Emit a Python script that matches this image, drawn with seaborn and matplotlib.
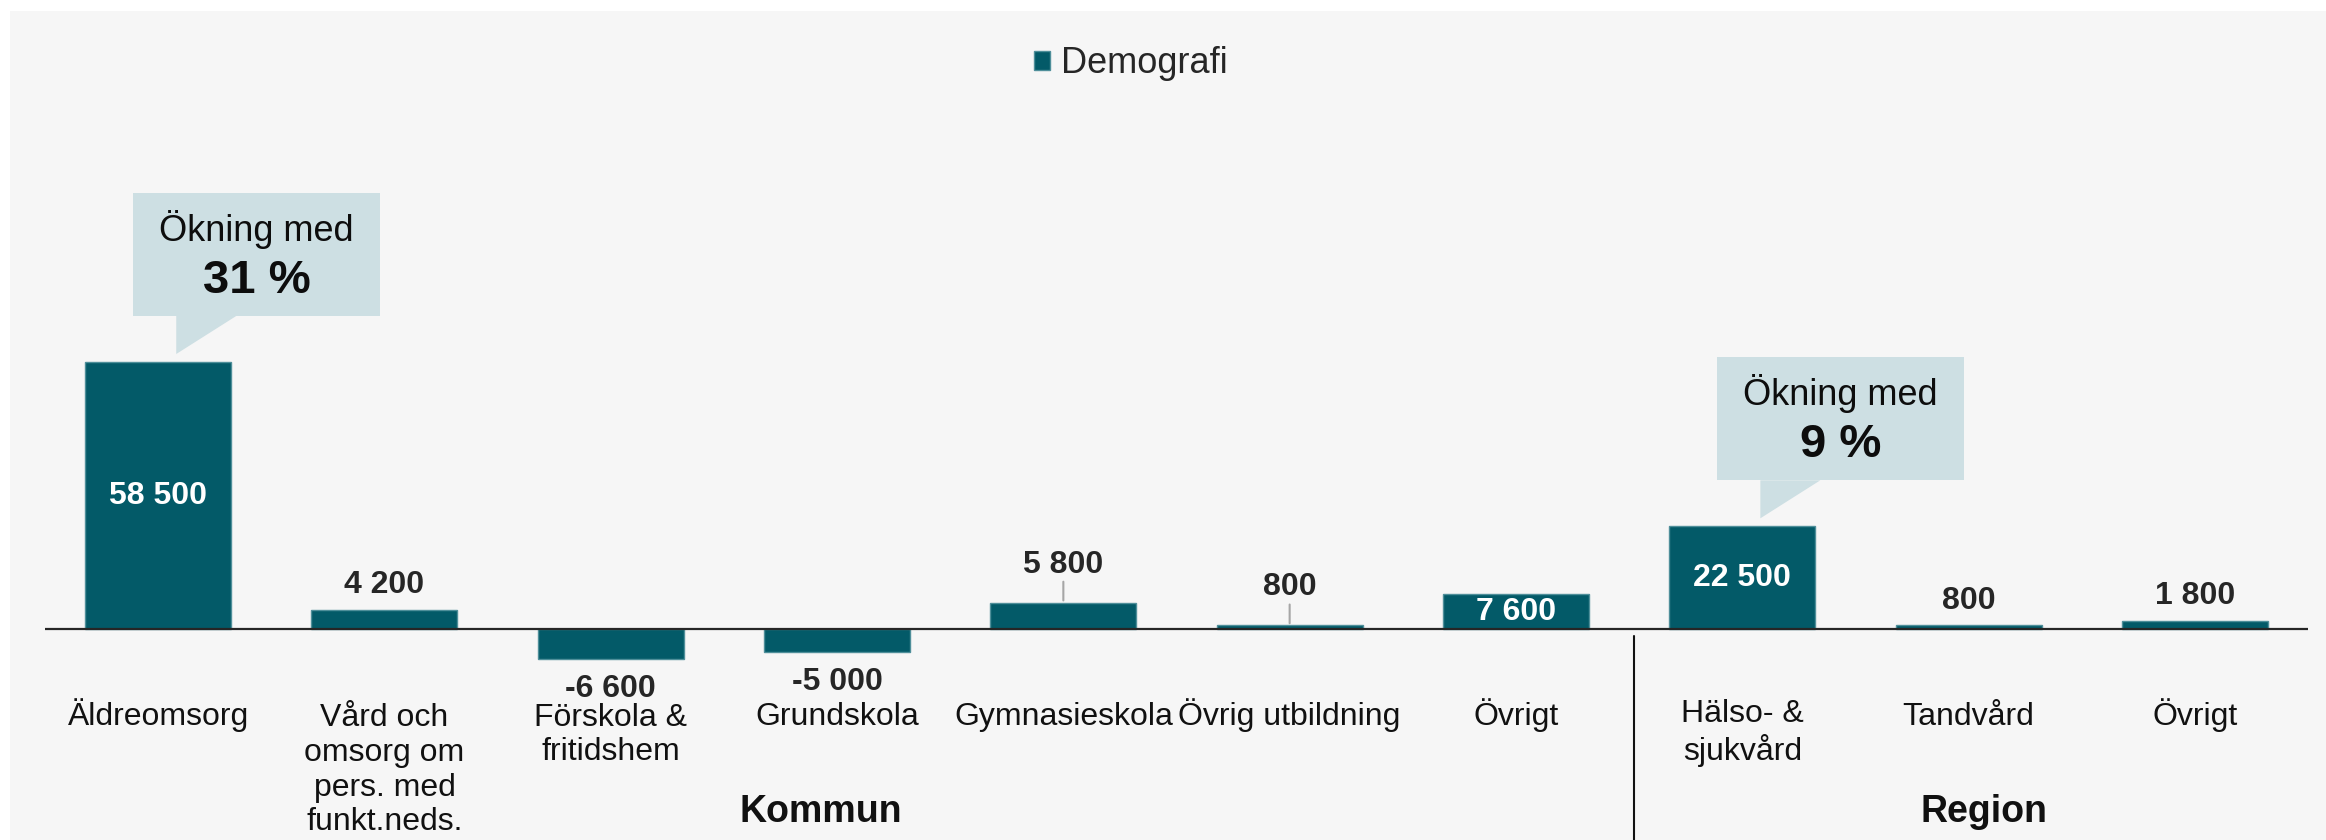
import seaborn as sns
import matplotlib.pyplot as plt
import matplotlib.transforms as mtransforms
from matplotlib.patches import Rectangle, Polygon
import pandas as pd
import numpy as np

# data
categories = [
    "Äldreomsorg", "Vård och\nomsorg om\npers. med\nfunkt.neds.", "Förskola &\nfritidshem",
    "Grundskola", "Gymnasieskola", "Övrig utbildning", "Övrigt",
    "Hälso- &\nsjukvård", "Tandvård", "Övrigt",
]
values = [58500, 4200, -6600, -5000, 5800, 800, 7600, 22500, 800, 1800]
series_name = "Demografi"
groups = ["Kommun", "Region"]
callout_idx = [0, 7]
callout_pct = ["31 %", "9 %"]

# label placement per bar
label_mode = ["inside", "above", "below", "below", "leader", "leader",
              "inside", "inside", "above", "above"]

bar_color = "#035a68"
callout_color = "#cddfe3"
text_dark = "#262626"

sns.set_theme(style="white")
plt.rcParams["font.family"] = ["Liberation Sans", "DejaVu Sans"]

W, H = 2326, 840
fig = plt.figure(figsize=(W / 100, H / 100), dpi=100)
fig.patch.set_facecolor("white")
fig.patches.append(Rectangle((10 / W, 0), 1 - 10 / W, 1 - 11 / H, transform=fig.transFigure,
                             facecolor="#f6f6f6", edgecolor="none", zorder=-10))

ax_bottom, ax_top = 692.9, 172.6  # pixels from top
ax_h = ax_bottom - ax_top
ax = fig.add_axes([45 / W, (H - ax_bottom) / H, (2308 - 45) / W, ax_h / H])
ax.set_facecolor("none")

df = pd.DataFrame({"pos": np.arange(len(values)), "value": values, "serie": series_name})
sns.barplot(data=df, x="pos", y="value", hue="serie", palette=[bar_color], dodge=False,
            saturation=1, width=0.645, edgecolor="#4f8f9a", linewidth=1, ax=ax, zorder=3)

ax.set_xlim(-0.5, len(values) - 0.5)
ax.set_ylim(-14000, 100000)
ax.axhline(0, color="#262626", lw=1.6, zorder=4)
for s in ax.spines.values():
    s.set_visible(False)
ax.set_yticks([])
ax.set_xticks([])
ax.set_xlabel("")
ax.set_ylabel("")

blend = mtransforms.blended_transform_factory(ax.transData, ax.transAxes)

# category labels (baseline of first line at a fixed level)
for i, lab in enumerate(categories):
    n = lab.count("\n")
    y = -(725 - ax_bottom + n * 35.1) / ax_h
    ax.text(i, y, lab, transform=blend, ha="center", va="baseline", multialignment="center",
            fontsize=23, linespacing=1.2, color="#111111")

# value labels
for i, v in enumerate(values):
    txt = f"{v:,}".replace(",", " ")
    mode = label_mode[i]
    if mode == "inside":
        ax.text(i, v / 2, txt, ha="center", va="center", fontsize=23,
                fontweight="bold", color="white", zorder=5)
        continue
    dy = {"above": 12, "below": -27.5, "leader": 21.6}[mode]
    ax.annotate(txt, (i, v), xytext=(0, dy), textcoords="offset points",
                ha="center", va="baseline", fontsize=23, fontweight="bold", color=text_dark)
    if mode == "leader":
        ax.annotate("", (i, v), xytext=(0, 15), textcoords="offset points",
                    arrowprops=dict(arrowstyle="-", color="#a6a6a6", lw=1.5,
                                    shrinkA=0, shrinkB=1.5), zorder=5)

# callouts
ppv = 219.1  # value units per pixel
for idx, pct in zip(callout_idx, callout_pct):
    v = values[idx]
    tip = v + 8 * ppv
    base = tip + 38 * ppv
    top = base + 123 * ppv
    left, right = idx - 0.11, idx + 0.98
    ax.add_patch(Rectangle((left, base), right - left, top - base, facecolor=callout_color,
                           edgecolor="none", zorder=6, clip_on=False))
    ax.add_patch(Polygon([(idx + 0.08, base + 1), (idx + 0.345, base + 1), (idx + 0.08, tip)],
                         closed=True, facecolor=callout_color, edgecolor="none",
                         zorder=6, clip_on=False))
    cx = (left + right) / 2
    ax.text(cx, top - 36 * ppv, "Ökning med", ha="center", va="center", fontsize=26,
            color="#0d0d0d", zorder=7)
    ax.text(cx, top - 88 * ppv, pct, ha="center", va="center", fontsize=34,
            fontweight="bold", color="#0d0d0d", zorder=7)

# group labels and divider
ax.text(2.93, -(822 - ax_bottom) / ax_h, groups[0], transform=blend, ha="center",
        va="baseline", fontsize=27, fontweight="bold", color="#111111")
ax.text(8.07, -(822 - ax_bottom) / ax_h, groups[1], transform=blend, ha="center",
        va="baseline", fontsize=27, fontweight="bold", color="#111111")
ax.plot([6.52, 6.52], [(ax_bottom - 636) / ax_h, -0.3], transform=blend,
        color="#111111", lw=1.5, clip_on=False)

# legend
ax.legend_.remove()
handles, labels = ax.get_legend_handles_labels()
fig.legend(handles[:1], [series_name], loc="center", bbox_to_anchor=(0.486, 0.924),
           frameon=False, fontsize=26, handlelength=0.45, handleheight=0.45,
           handletextpad=0.3)

plt.savefig("out.png", dpi=100)
